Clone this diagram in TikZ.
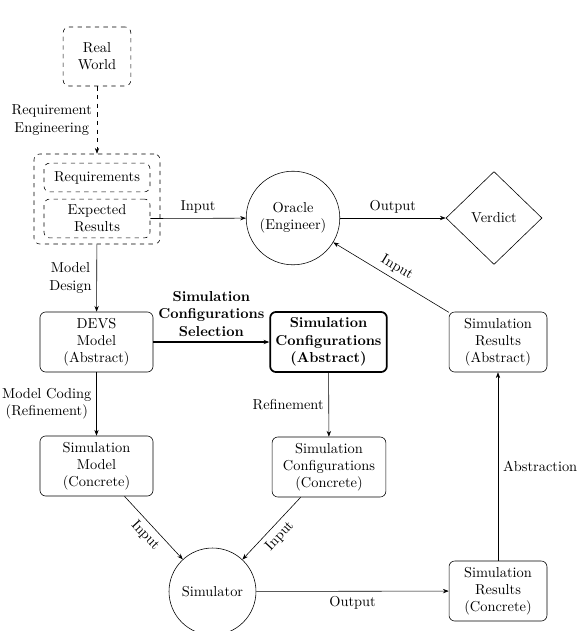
\documentclass[tikz,border=0pt]{standalone}
\usetikzlibrary{shapes.geometric,arrows.meta}
\begin{document}
\begin{tikzpicture}[x=0.69444pt,y=-0.69444pt,
  box/.style={draw,rounded corners=4pt,align=center,inner sep=2pt,minimum height=41.7pt},
  dbox/.style={draw,dashed,rounded corners=4pt,align=center,inner sep=2pt},
  circ/.style={draw,circle,align=center,inner sep=1pt},
  arr/.style={-{Stealth[length=4pt,width=3pt]}},
  lbl/.style={align=center}]
\useasboundingbox (0,0) rectangle (580,631);
% nodes
\node[dbox,minimum width=47pt,minimum height=41pt] (real) at (97,56.5) {Real\\World};
\node[dbox,minimum width=87.5pt,minimum height=62.5pt] (outer) at (97,199) {};
\node[dbox,minimum width=73.6pt,minimum height=20pt] (req) at (97,177.5) {Requirements};
\node[dbox,minimum width=73.6pt,minimum height=27pt] (exp) at (97,218.5) {Expected\\Results};
\node[circ,minimum size=65pt] (oracle) at (293,218) {Oracle\\(Engineer)};
\node[draw,diamond,minimum width=66.7pt,minimum height=64.5pt,inner sep=1pt] (verdict) at (494,218) {Verdict};
\node[box,minimum width=78.5pt] (devs) at (96.5,342) {DEVS\\Model\\(Abstract)};
\node[box,minimum width=81pt,line width=1.2pt,font=\bfseries] (sca) at (328.5,342) {Simulation\\Configurations\\(Abstract)};
\node[box,minimum width=68pt] (sra) at (498,342) {Simulation\\Results\\(Abstract)};
\node[box,minimum width=78.5pt] (sm) at (96.5,466) {Simulation\\Model\\(Concrete)};
\node[box,minimum width=79pt] (scc) at (329,467) {Simulation\\Configurations\\(Concrete)};
\node[circ,minimum size=60.4pt] (sim) at (212.5,591.5) {Simulator};
\node[box,minimum width=68pt] (src) at (498,591) {Simulation\\Results\\(Concrete)};
% edges
\draw[arr,dashed] (real) -- node[left,lbl]{Requirement\\Engineering} (outer);
\draw[arr] (exp.east) -- node[above]{Input} (oracle);
\draw[arr] (oracle) -- node[above]{Output} (verdict);
\draw[arr] (sra) -- node[above,sloped]{Input} (oracle);
\draw[arr] (outer) -- node[left,lbl]{Model\\Design} (devs);
\draw[arr,line width=1.2pt] (devs) -- node[above,lbl,font=\bfseries]{Simulation\\Configurations\\Selection} (sca);
\draw[arr] (devs) -- node[left,lbl]{Model Coding\\(Refinement)} (sm);
\draw[arr] (sca) -- node[left]{Refinement} (scc);
\draw[arr] (src) -- node[right]{Abstraction} (sra);
\draw[arr] (sm) -- node[below,sloped]{Input} (sim);
\draw[arr] (scc) -- node[below,sloped]{Input} (sim);
\draw[arr] (sim) -- node[below]{Output} (src);
\end{tikzpicture}
\end{document}
